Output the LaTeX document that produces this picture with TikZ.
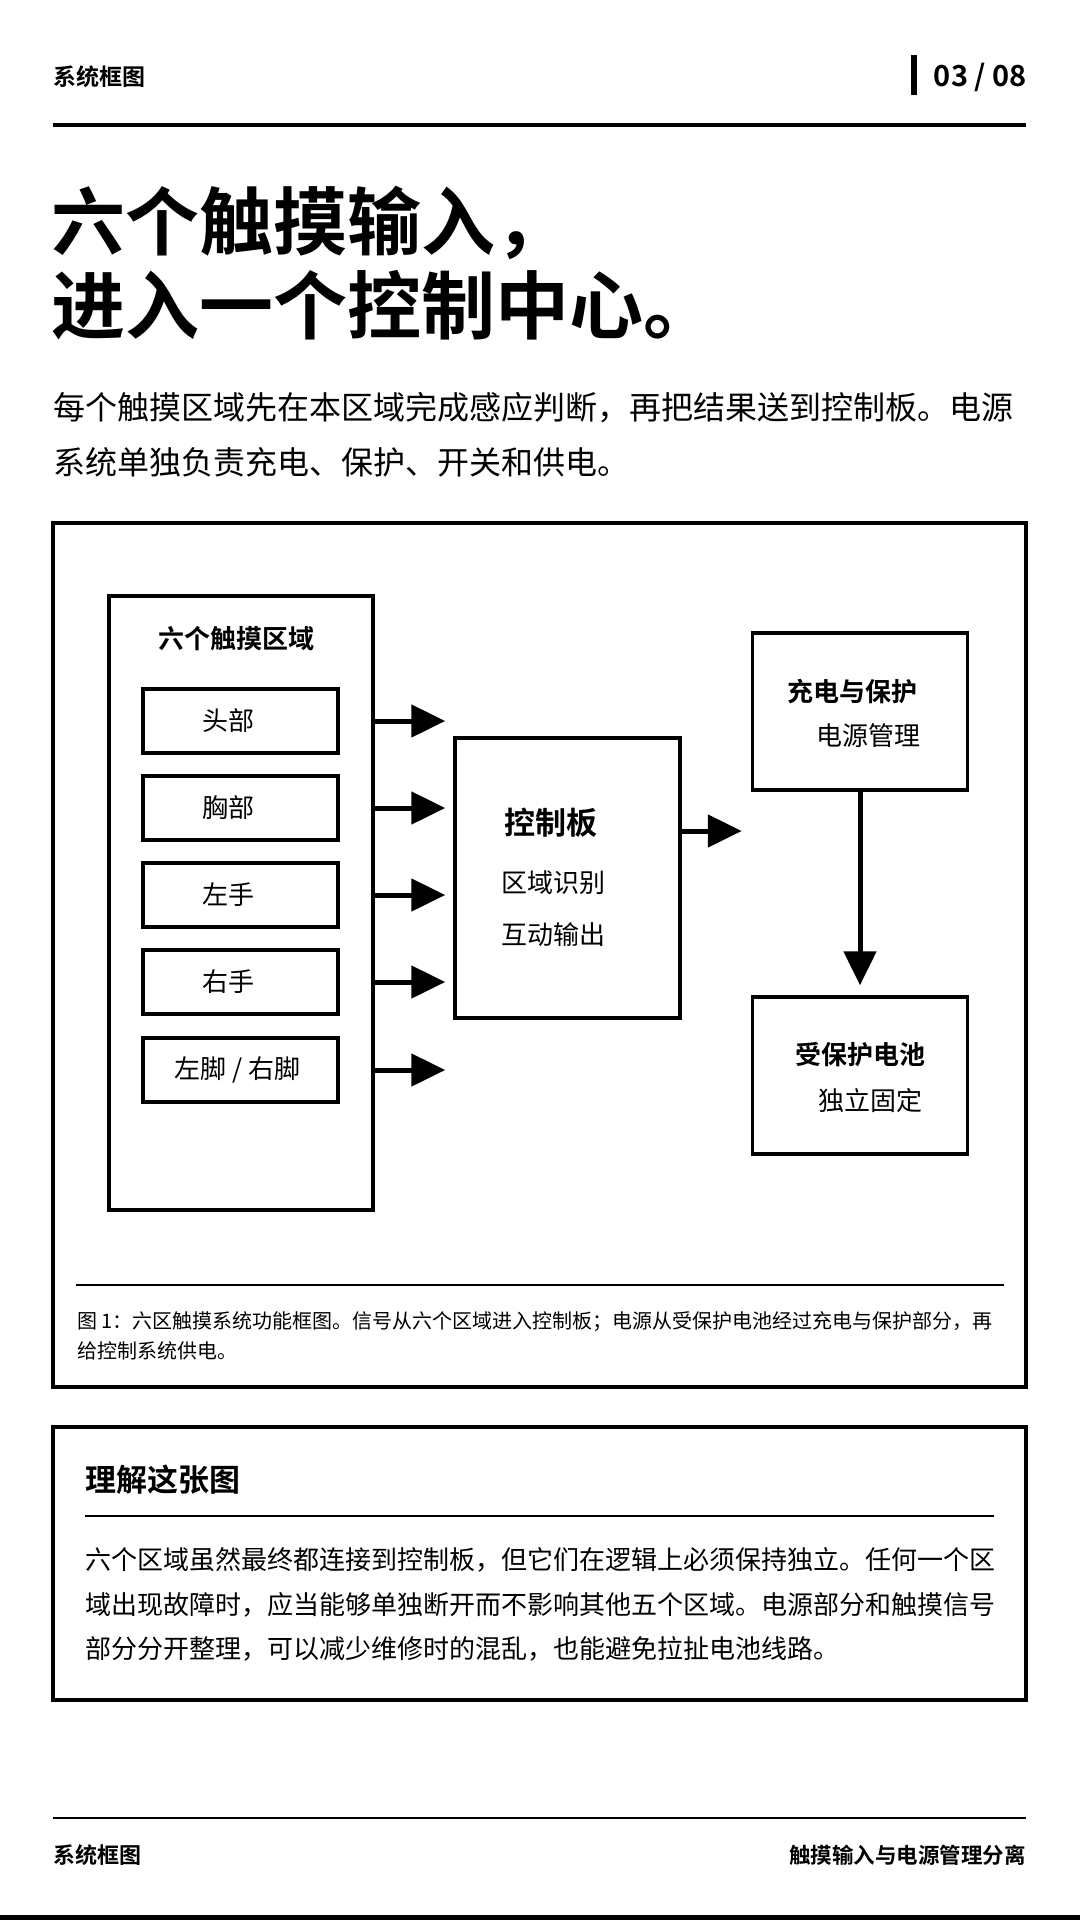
\documentclass[tikz,border=0pt]{standalone}
\usepackage{fontspec}
\setmainfont{Noto Sans CJK SC}[BoldFont={Noto Sans CJK SC Bold}]
\usetikzlibrary{arrows.meta}

\begin{document}
\begin{tikzpicture}[x=1pt, y=-1pt,
    blk/.style={draw, line width=3.5pt, inner sep=0pt},
    zone/.style={blk, minimum width=195pt, minimum height=64pt},
    sig/.style={line width=5pt, -{Triangle[length=34pt, width=32pt]}},
    txt/.style={inner sep=0pt, font=\fontsize{26pt}{30pt}\selectfont},
    hd/.style={inner sep=0pt, font=\fontsize{26pt}{30pt}\selectfont\bfseries},
    rule/.style={line width=2.5pt}]
    \useasboundingbox (0,0) rectangle (1080,1920);

    % header
    \node (head) [anchor=west, inner sep=0pt, font=\fontsize{23pt}{26pt}\selectfont\bfseries] at (53,77) {系统框图};
    \fill (911,55) rectangle (917,95);
    \node (page) [anchor=east, inner sep=0pt, font=\fontsize{29pt}{32pt}\selectfont\bfseries] at (1027,77) {03 / 08};
    \draw [line width=4pt] (53,125) -- (1026,125);

    \node (title) [anchor=west, inner sep=0pt, align=left, font=\fontsize{74pt}{84pt}\selectfont\bfseries] at (51,263.5)
        {六个触摸输入，\\进入一个控制中心。};
    \node (lead) [anchor=west, inner sep=0pt, align=left, font=\fontsize{32pt}{55pt}\selectfont] at (53,434.5)
        {每个触摸区域先在本区域完成感应判断，再把结果送到控制板。电源\\系统单独负责充电、保护、开关和供电。};

    % figure
    \draw [line width=4pt] (53,523) rectangle (1026,1387);

    \node (zones) [blk, minimum width=264pt, minimum height=614pt] at (241,903) {};
    \node (zonehd) [hd] at (236,639) {六个触摸区域};
    \foreach \i/\y/\dx/\t in {1/721/-12/头部, 2/808/-12/胸部, 3/895/-12/左手, 4/982/-12/右手, 5/1070/-3/左脚 \slash{} 右脚} {
        \node (z\i) [zone] at (240.5,\y) {};
        \node (zt\i) [txt] at ([xshift=\dx pt]z\i.center) {\t};
    }

    \node (ctrl) [blk, minimum width=225pt, minimum height=280pt] at (567.5,878) {};
    \node (ctrlhd) [hd, font=\fontsize{31pt}{34pt}\selectfont\bfseries] at (551,823) {控制板};
    \node (ctrl1) [txt] at (553,883) {区域识别};
    \node (ctrl2) [txt] at (553,935) {互动输出};

    \node (chg) [blk, minimum width=215pt, minimum height=157pt] at (860,711.5) {};
    \node (chghd) [hd] at (852,692) {充电与保护};
    \node (chg1) [txt] at (868,736) {电源管理};

    \node (batt) [blk, minimum width=215pt, minimum height=157pt] at (860,1075.5) {};
    \node (batthd) [hd] at (860,1055) {受保护电池};
    \node (batt1) [txt] at (870,1101) {独立固定};

    \foreach \i in {1,...,5} {
        \draw [sig, shorten >=8pt] (zones.east |- z\i) -- (ctrl.west |- z\i);
    }
    \coordinate (tap) at (ctrl.east |- 0,831);
    \draw [sig, shorten >=9pt] (tap) -- (chg.west |- tap);
    \draw [sig, shorten >=10pt] (chg.south) -- (batt.north);

    \draw [line width=2pt] (76,1285) -- (1004,1285);
    \node (cap) [anchor=west, inner sep=0pt, align=left, font=\fontsize{20pt}{30pt}\selectfont] at (77,1336)
        {图 1：六区触摸系统功能框图。信号从六个区域进入控制板；电源从受保护电池经过充电与保护部分，再\\给控制系统供电。};

    % note box
    \draw [line width=4pt] (53,1427) rectangle (1026,1700);
    \node (notehd) [anchor=west, inner sep=0pt, font=\fontsize{31pt}{34pt}\selectfont\bfseries] at (85,1480) {理解这张图};
    \draw [rule] (85,1516) -- (994,1516);
    \node (note) [anchor=west, inner sep=0pt, align=left, font=\fontsize{26pt}{44.5pt}\selectfont] at (85,1604.5)
        {六个区域虽然最终都连接到控制板，但它们在逻辑上必须保持独立。任何一个区\\域出现故障时，应当能够单独断开而不影响其他五个区域。电源部分和触摸信号\\部分分开整理，可以减少维修时的混乱，也能避免拉扯电池线路。};

    % footer
    \draw [rule] (53,1818) -- (1026,1818);
    \node (footl) [anchor=west, inner sep=0pt, font=\fontsize{22pt}{25pt}\selectfont\bfseries] at (53,1855) {系统框图};
    \node (footr) [anchor=east, inner sep=0pt, font=\fontsize{21.5pt}{25pt}\selectfont\bfseries] at (1026,1855) {触摸输入与电源管理分离};
    \fill (0,1915) rectangle (1080,1920);
\end{tikzpicture}
\end{document}
